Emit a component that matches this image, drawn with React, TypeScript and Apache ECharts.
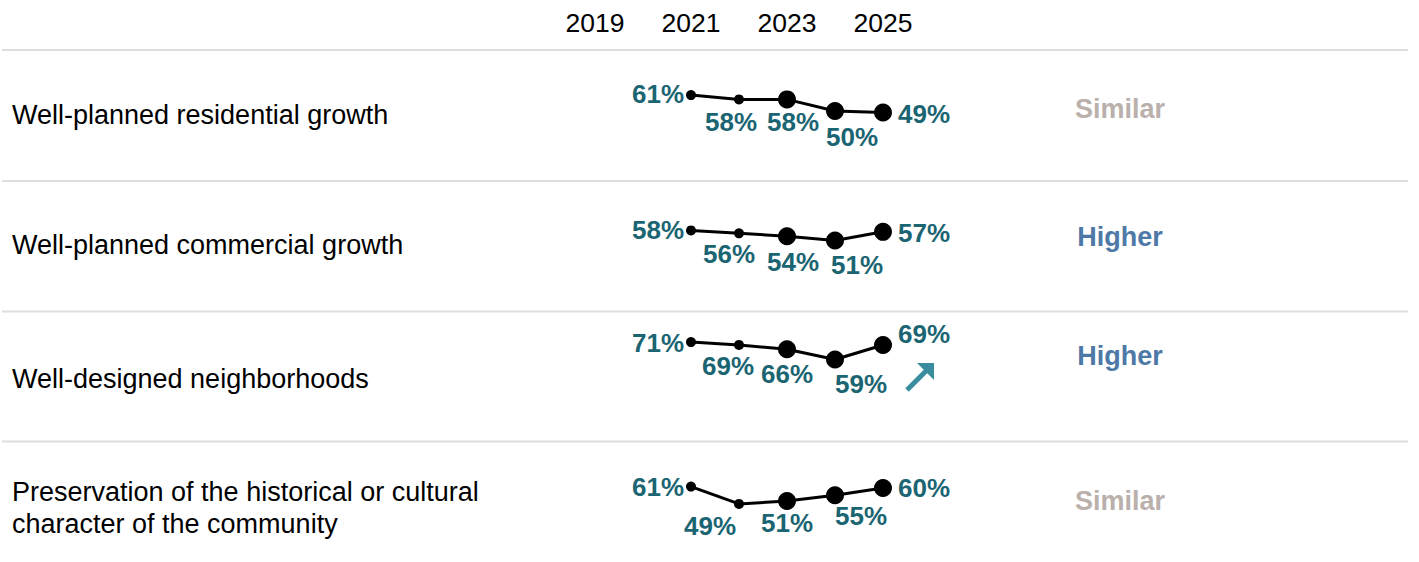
import React, { useEffect, useRef } from "react";
import * as echarts from "echarts";

const years = ["2019", "2020", "2021", "2022", "2023", "2024", "2025"];
const pointYears = ["2021", "2022", "2023", "2024", "2025"];

const rowNames = [
  "Well-planned residential growth",
  "Well-planned commercial growth",
  "Well-designed neighborhoods",
  "Preservation of the historical or cultural\ncharacter of the community",
];
const residential = [61, 58, 58, 50, 49];
const commercial = [58, 56, 54, 51, 57];
const neighborhoods = [71, 69, 66, 59, 69];
const preservation = [61, 49, 51, 55, 60];
const rowValues = [residential, commercial, neighborhoods, preservation];
const statuses = ["Similar", "Higher", "Higher", "Similar"];

// layout (not data)
const rowTops = [50, 181, 311.5, 441.5];
const rowTextY = [115, 245, 379, 508];
const statusY = [109, 237, 356, 501];
const symbolSizes = [10, 10, 18, 18, 18];
const labelOffsets = [
  [[-33, -1], [-8, 23], [6, 23], [17, 26], [41, 2]],
  [[-33, 0], [-10, 21], [6, 26], [22, 24], [41, 1]],
  [[-33, 1], [-11, 21], [0, 25], [26, 25], [41, -11]],
  [[-33, 0], [-29, 22], [0, 22], [26, 21], [41, 0]],
];

const FONT = "'Liberation Sans', Arial, Helvetica, sans-serif";
const TEAL = "#1b6573";
const statusColor: Record<string, string> = { Similar: "#bab0ac", Higher: "#4e79a7" };

export default function App() {
  const ref = useRef<HTMLDivElement>(null);
  useEffect(() => {
    if (!ref.current) return;
    const chart = echarts.init(ref.current, null, { renderer: "svg" });

    // y range 20..100 at 1.45 px per point
    const grids = rowTops.map((t) => ({ left: 595, width: 288, top: t - 11.5, height: 116 }));
    const xAxes = rowTops.map((_, i) => ({
      type: "category",
      gridIndex: i,
      data: years,
      boundaryGap: false,
      position: "top",
      axisLine: { show: false },
      axisTick: { show: false },
      splitLine: { show: false },
      axisLabel: {
        show: i === 0,
        interval: 1,
        fontSize: 26.5,
        color: "#000",
        fontFamily: FONT,
        margin: 2,
      },
    }));
    const yAxes = rowTops.map((_, i) => ({
      type: "value",
      gridIndex: i,
      min: 20,
      max: 100,
      show: false,
    }));
    const series = rowValues.map((vals, r) => ({
      type: "line",
      xAxisIndex: r,
      yAxisIndex: r,
      data: vals.map((v, k) => ({
        value: [pointYears[k], v],
        symbolSize: symbolSizes[k],
        label: {
          show: true,
          position: "inside",
          offset: labelOffsets[r][k],
          formatter: `${v}%`,
        },
      })),
      symbol: "circle",
      showSymbol: true,
      lineStyle: { color: "#000", width: 3 },
      itemStyle: { color: "#000" },
      label: {
        fontSize: 26,
        fontWeight: "bold",
        color: TEAL,
        fontFamily: FONT,
      },
      z: 3,
    }));

    const graphics: any[] = [];
    rowTops.forEach((t) => {
      graphics.push({
        type: "line",
        shape: { x1: 2, y1: t, x2: 1408, y2: t },
        style: { stroke: "#dddddd", lineWidth: 2 },
      });
    });
    rowNames.forEach((name, i) => {
      graphics.push({
        type: "text",
        x: 12,
        y: rowTextY[i],
        style: {
          text: name,
          font: `27px ${FONT}`,
          fill: "#000",
          textAlign: "left",
          textVerticalAlign: "middle",
          lineHeight: 32,
        },
      });
    });
    statuses.forEach((s, i) => {
      graphics.push({
        type: "text",
        x: 1120,
        y: statusY[i],
        style: {
          text: s,
          font: `bold 27px ${FONT}`,
          fill: statusColor[s],
          textAlign: "center",
          textVerticalAlign: "middle",
        },
      });
    });
    // arrow annotation in row 3
    graphics.push({
      type: "group",
      children: [
        {
          type: "line",
          shape: { x1: 907, y1: 390, x2: 926, y2: 371 },
          style: { stroke: "#3a8d9c", lineWidth: 5 },
        },
        {
          type: "polygon",
          shape: { points: [[917, 363], [934, 363], [934, 380]] },
          style: { fill: "#3a8d9c" },
        },
      ],
    });

    chart.setOption({
      animation: false,
      backgroundColor: "#fff",
      grid: grids,
      xAxis: xAxes,
      yAxis: yAxes,
      series,
      graphic: graphics,
    });
    return () => chart.dispose();
  }, []);
  return (
    <div
      ref={ref}
      style={{ position: "absolute", left: 0, top: 0, width: 1419, height: 562 }}
    />
  );
}
